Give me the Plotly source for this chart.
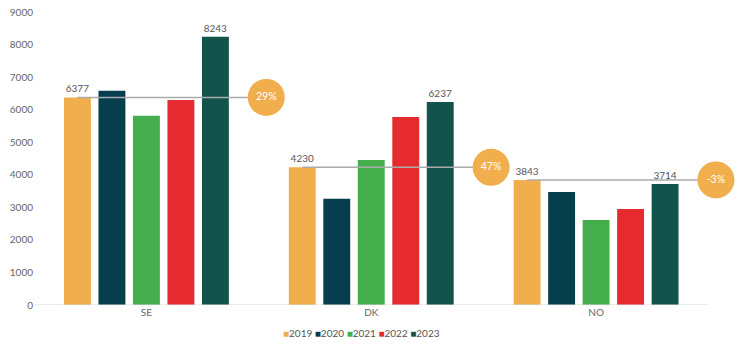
import plotly.graph_objects as go

# Countries and yearly values
countries = ["SE", "DK", "NO"]
years = ["2019", "2020", "2021", "2022", "2023"]
values_2019 = [6377, 4230, 3843]
values_2020 = [6580, 3260, 3470]
values_2021 = [5810, 4455, 2610]
values_2022 = [6300, 5775, 2950]
values_2023 = [8243, 6237, 3714]

series = [values_2019, values_2020, values_2021, values_2022, values_2023]
colors = ["#F0AE4C", "#073E4D", "#45AE4C", "#E52B30", "#12544B"]
label_years = {"2019", "2023"}

BARGAP = 0.233
FONT = "Lato"
x_pos = list(range(len(countries)))
X_MIN, X_AXIS_END, X_MAX = -0.5, 2.5, 2.6
PX_PER_CAT = 225
LEFT = 34
right_margin = 746 - (LEFT + (X_MAX - X_MIN) * PX_PER_CAT)

fig = go.Figure()

for year, vals, col in zip(years, series, colors):
    txt = [str(v) for v in vals] if year in label_years else [""] * len(vals)
    fig.add_trace(go.Bar(
        x=x_pos, y=vals, name=year, marker=dict(color=col, line=dict(width=0)),
        text=txt, textposition="outside", cliponaxis=False,
        textfont=dict(family=FONT, size=10, color="#555555"),
        showlegend=False, hoverinfo="skip",
    ))

# Baseline along the category range only
fig.add_shape(type="line", xref="x", yref="y", x0=X_MIN, x1=X_AXIS_END,
              y0=0, y1=0, line=dict(color="#D9D9D9", width=1), layer="above")

# Change from first to last year: line from the first bar to a badge
slot = (1 - BARGAP) / len(years)
first_center = -2 * slot
badge_offset = 0.533
for i, a in enumerate(values_2019):
    fig.add_trace(go.Scatter(
        x=[i + first_center, i + badge_offset], y=[a, a], mode="lines",
        line=dict(color="#ABABAB", width=1.5), showlegend=False,
        hoverinfo="skip", cliponaxis=False,
    ))
pct = [round((b / a - 1) * 100) for a, b in zip(values_2019, values_2023)]
fig.add_trace(go.Scatter(
    x=[i + badge_offset for i in x_pos], y=values_2019, mode="markers+text",
    marker=dict(size=37, color="#F0AE4C"), text=[f"{p}%" for p in pct],
    textposition="middle center",
    textfont=dict(family=FONT, size=10.5, color="#FFFFFF"),
    showlegend=False, hoverinfo="skip", cliponaxis=False,
))

# Compact legend row under the axis
legend_html = "&nbsp;".join(
    f"<span style='color:{c}'>■</span>{y}" for y, c in zip(years, colors)
)
fig.add_annotation(
    text=legend_html, xref="paper", yref="paper",
    x=(362 - LEFT) / ((X_MAX - X_MIN) * PX_PER_CAT), y=-0.095,
    xanchor="center", yanchor="middle", showarrow=False,
    font=dict(family=FONT, size=10, color="#555555"),
)

fig.update_layout(
    width=746, height=348,
    margin=dict(l=LEFT, r=right_margin, t=12, b=43),
    paper_bgcolor="white", plot_bgcolor="white",
    barmode="group", bargap=BARGAP, bargroupgap=0.22,
    font=dict(family=FONT, size=10, color="#666666"),
    xaxis=dict(
        range=[X_MIN, X_MAX], tickvals=x_pos, ticktext=countries,
        showgrid=False, zeroline=False, showline=False, ticks="",
        automargin=False,
        tickfont=dict(family=FONT, size=10, color="#666666"),
    ),
    yaxis=dict(
        range=[0, 9000], dtick=1000, showgrid=False, zeroline=False,
        showline=False, ticks="", automargin=False,
        tickfont=dict(family=FONT, size=10, color="#666666"),
    ),
)

fig.write_html("out.html")
